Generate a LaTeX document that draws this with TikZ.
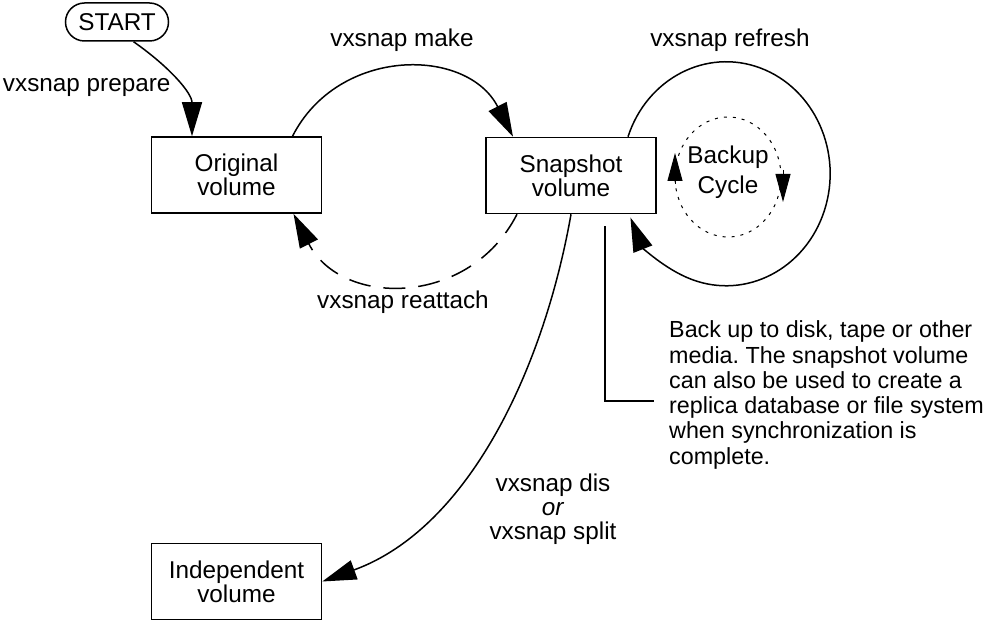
\documentclass[tikz,border=0pt]{standalone}
\usepackage{fontspec}
\setmainfont{Liberation Sans}
\usetikzlibrary{positioning, arrows.meta, shapes.misc}

\tikzset{
	every block/.style={draw, line width=1.5pt, minimum width=170pt,
		minimum height=76pt, inner sep=0pt, align=center},
	every flow/.style={->, line width=1.5pt, color=black},
	every loop/.style={line width=1pt, dash pattern=on 3pt off 6pt},
	every tick/.style={-{Triangle[length=28pt, width=15pt]}, line width=1pt},
}

\begin{document}
\frenchspacing
\begin{tikzpicture}[x=1pt, y=1pt, >={Triangle[length=34pt, width=20pt]},
		font=\fontsize{24.3}{24}\selectfont]
		\useasboundingbox (0,0) rectangle (990,622);

		\node [draw, rounded rectangle, line width=1.5pt, minimum width=103pt,
			minimum height=38pt, inner sep=0pt] (start) at (117,600) {START};

		\foreach \n/\x/\y/\t in {orig/236.5/447/Original, snap/571/446.5/Snapshot,
			indep/236.5/40.5/Independent} {
			\node [every block] (\n) at (\x,\y) {\t\\volume};
		};

		\node [anchor=east] (prepare) at (174,535) {vxsnap prepare};
		\node (make) at (402,582) {vxsnap make};
		\node (reattach) at (403,320) {vxsnap reattach};
		\node (refresh) at (730,582) {vxsnap refresh};
		\node [align=center] (split) at (553,113) {vxsnap dis\\\textit{or}\\vxsnap split};
		\node [align=center, font=\fontsize{24.3}{30}\selectfont] (cycle) at (728,450) {Backup\\Cycle};
		\node [anchor=west, align=left, inner sep=0pt, font=\fontsize{23.3}{25.3}\selectfont] (note) at (669,227) {
			Back up to disk, tape or other\\
			media. The snapshot volume\\
			can also be used to create a\\
			replica database or file system\\
			when synchronization is\\
			complete.
		};

		\draw [every flow] (start.-50) to [out=-35, in=90] ([xshift=-44.5]orig.north);
		\draw [every flow] ([xshift=56]orig.north) to [out=63, in=117, looseness=1.17]
			([xshift=-58]snap.north);
		\draw [every flow, dash pattern=on 22pt off 13pt] ([xshift=-54]snap.south)
			to [out=-117, in=-63, looseness=1.2] ([xshift=57]orig.south);
		\draw [every flow] ([xshift=57]snap.north)
			arc [start angle=160.7, end angle=-157, x radius=104, y radius=112];
		\draw [every flow] (snap.south) to [out=-100, in=20, looseness=0.9] (indep.east);

		\draw [every loop] (728,445) ellipse [x radius=53, y radius=60];
		\draw [every tick] (675,438) -- ++(0,31);
		\draw [every tick] (783,452) -- ++(0,-32);

		\coordinate (memo) at (654,221);
		\draw [line width=1.2pt] ([xshift=34, yshift=-12]snap.south) |- (memo);
	\end{tikzpicture}
\end{document}
